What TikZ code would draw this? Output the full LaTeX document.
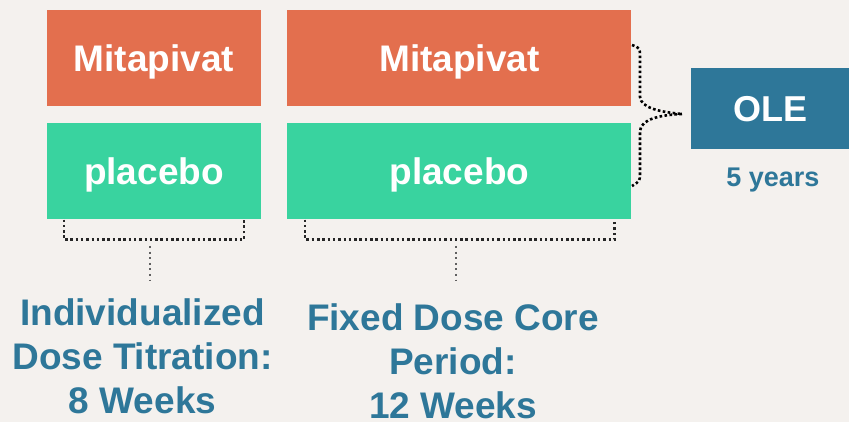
\documentclass[tikz,border=0pt]{standalone}
\usepackage{fontspec}
\setmainfont{Liberation Sans}
\usepackage{tikz}
\usetikzlibrary{positioning}
\definecolor{bgcol}{HTML}{F4F1EE}
\definecolor{mitcol}{HTML}{E36F4E}
\definecolor{pbocol}{HTML}{39D39F}
\definecolor{olecol}{HTML}{2E7799}

\begin{document}
\begin{tikzpicture}[x=1pt, y=-1pt, node distance={17pt and 26pt},
        arm/.style = {inner sep=0pt, minimum height=96pt, text=white, text depth=0pt, font=\fontsize{37}{44}\selectfont\bfseries},
        mit/.style = {arm, fill=mitcol},
        pbo/.style = {arm, fill=pbocol},
        lbl/.style = {inner sep=0pt, anchor=north, align=center, text=olecol, font=\fontsize{37}{44}\selectfont\bfseries},
        bracket/.style = {line width=2.5pt, dash pattern=on 2.5pt off 2.8pt, black!85},
        stem/.style = {line width=2pt, dash pattern=on 2pt off 3.6pt, gray!75!black},
        brace/.style = {line width=2.6pt, dash pattern=on 2.6pt off 2.4pt, black}]
            \fill[bgcol] (0,0) rectangle (849,422);
            \useasboundingbox (0,0) rectangle (849,422);

            \node[mit, minimum width=214pt] (mit1) at (154,58) {Mitapivat};
            \node[pbo, minimum width=214pt] (pbo1) [below=of mit1] {placebo};
            \node[mit, minimum width=344pt] (mit2) [right=of mit1] {Mitapivat};
            \node[pbo, minimum width=344pt] (pbo2) [below=of mit2] {placebo};
            \node[arm, fill=olecol, minimum width=158pt, minimum height=81pt, font=\fontsize{36}{40}\selectfont\bfseries] (ole) at (770,108.5) {OLE};
            \node[anchor=base, inner sep=0pt, text=olecol, font=\fontsize{27}{30}\selectfont\bfseries] (yrs) at (773,187) {5 years};

            \node[lbl] (lab1) at (142.5,298.5) {Individualized\\Dose Titration:\\8 Weeks};
            \node[lbl] (lab2) at (453,303.5) {Fixed Dose Core\\Period:\\12 Weeks};

            \draw[bracket] ([xshift=17pt]pbo1.south west) -- ++(0,20) -| ([xshift=-17pt]pbo1.south east);
            \draw[bracket] ([xshift=18pt]pbo2.south west) -- ++(0,20) -| ([xshift=-17pt]pbo2.south east);

            \coordinate (s1) at (150,246);
            \coordinate (s2) at (456,246);
            \draw[stem, shorten >=18pt] (s1) -- (s1 |- lab1.north);
            \draw[stem, shorten >=22pt] (s2) -- (s2 |- lab2.north);

            \coordinate (tip) at (682,114);
            \draw[brace] (632,45) .. controls (640,48) .. (640,57) -- (640,97) .. controls (641,108) and (660,112) .. (tip);
            \draw[brace] (tip) .. controls (660,115) and (641,119) .. (640,131) -- (640,173) .. controls (640,181) .. (632,186);

        \end{tikzpicture}
\end{document}
